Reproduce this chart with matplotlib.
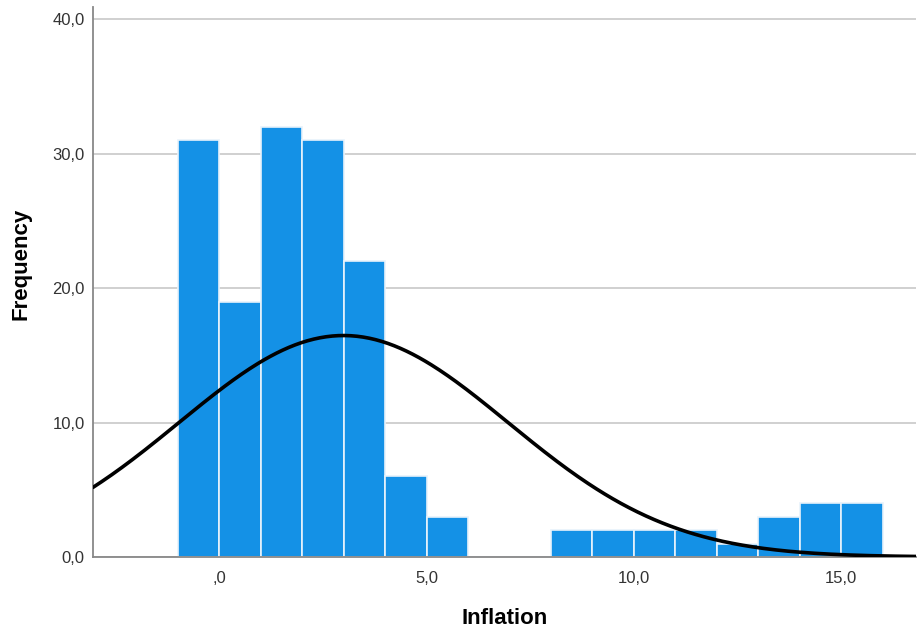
import numpy as np
import matplotlib
matplotlib.use("Agg")
import matplotlib.pyplot as plt
from matplotlib.ticker import FuncFormatter

plt.rcParams['font.family'] = ['Liberation Sans', 'DejaVu Sans']

# Histogram data (bin width 1)
bin_edges = [-1, 0, 1, 2, 3, 4, 5, 6, 7, 8, 9, 10, 11, 12, 13, 14, 15, 16]
counts = [31, 19, 32, 31, 22, 6, 3, 0, 0, 2, 2, 2, 2, 1, 3, 4, 4]
curve_mean = 3.0
curve_sd = 3.97
x_ticks = [0, 5, 10, 15]
y_ticks = [0, 10, 20, 30, 40]

fig = plt.figure(figsize=(9.17, 6.29), dpi=100)
ax = fig.add_axes([0.1014, 0.1145, 0.8975, 0.8744])

lefts = np.array(bin_edges[:-1])
widths = np.diff(bin_edges)
ax.bar(lefts, counts, width=widths, align='edge', color='#1491E6',
       edgecolor='#E8F2FB', linewidth=1.2, zorder=2)

N = sum(counts)
xs = np.linspace(-3.04, 16.8, 400)
ys = N * 1.0 / (curve_sd * np.sqrt(2 * np.pi)) * np.exp(-(xs - curve_mean) ** 2 / (2 * curve_sd ** 2))
ax.plot(xs, ys, color='black', linewidth=2.6, zorder=3, solid_capstyle='round')

ax.set_xlim(-3.04, 16.8)
ax.set_ylim(0, 40.93)
ax.set_xticks(x_ticks)
ax.set_yticks(y_ticks)

ax.xaxis.set_major_formatter(FuncFormatter(lambda v, p: (',0' if v == 0 else f"{v:.1f}".replace('.', ','))))
ax.yaxis.set_major_formatter(FuncFormatter(lambda v, p: f"{v:.1f}".replace('.', ',')))

ax.tick_params(axis='both', length=0, labelsize=12, colors='#333333', pad=6)
ax.tick_params(axis='x', pad=10)
ax.yaxis.grid(True, color='#C8C8C8', linewidth=1.2, zorder=0)
ax.set_axisbelow(True)

for s in ['top', 'right']:
    ax.spines[s].set_visible(False)
for s in ['left', 'bottom']:
    ax.spines[s].set_color('#888888')
    ax.spines[s].set_linewidth(1.3)

ax.set_xlabel('Inflation', fontsize=16, fontweight='bold', labelpad=16)
ax.set_ylabel('Frequency', fontsize=16, fontweight='bold')
ax.yaxis.set_label_coords(-0.075, 0.533)

fig.savefig('out.png', dpi=100)
